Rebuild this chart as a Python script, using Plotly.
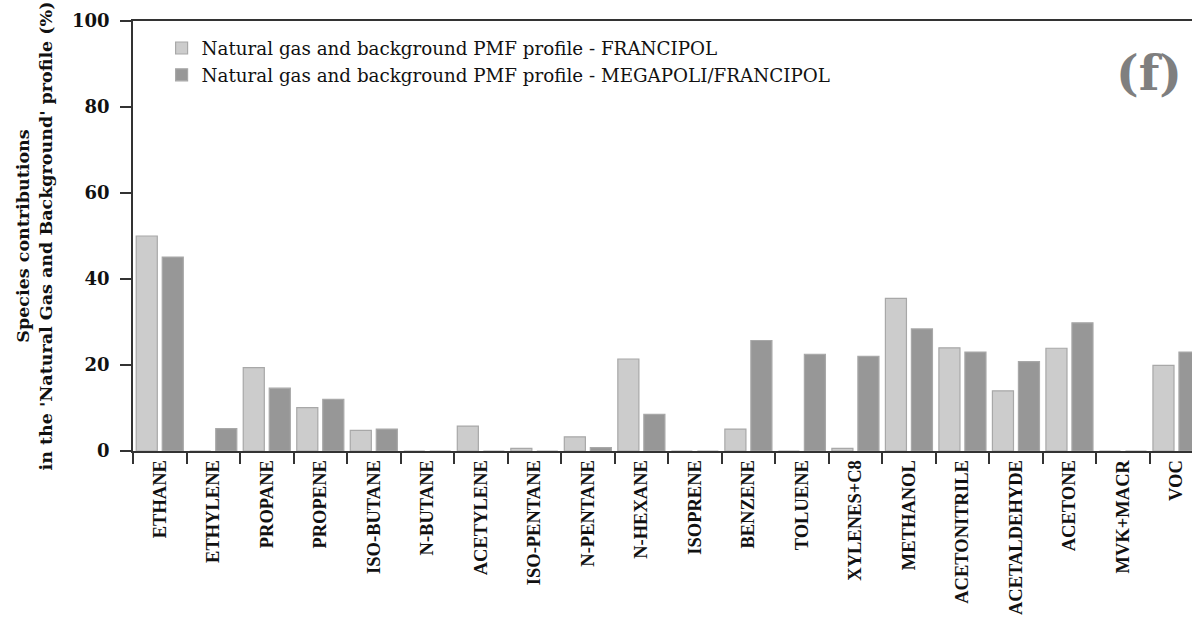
import plotly.graph_objects as go

species = ["ETHANE", "ETHYLENE", "PROPANE", "PROPENE", "ISO-BUTANE", "N-BUTANE",
           "ACETYLENE", "ISO-PENTANE", "N-PENTANE", "N-HEXANE", "ISOPRENE", "BENZENE",
           "TOLUENE", "XYLENES+C8", "METHANOL", "ACETONITRILE", "ACETALDEHYDE",
           "ACETONE", "MVK+MACR", "VOC"]

francipol = [50.0, 0.0, 19.4, 10.1, 4.8, 0.0, 5.8, 0.6, 3.3, 21.4, 0.0, 5.1,
             0.0, 0.6, 35.5, 24.0, 14.0, 23.9, 0.0, 19.9]

megapoli_francipol = [45.1, 5.2, 14.6, 12.0, 5.1, 0.0, 0.0, 0.0, 0.8, 8.5, 0.0, 25.7,
                      22.5, 22.0, 28.4, 23.0, 20.8, 29.8, 0.0, 23.0]

y_ticks = [0, 20, 40, 60, 80, 100]

serif = "Liberation Serif"
wide_serif = "DejaVu Serif"

fig = go.Figure()
fig.add_trace(go.Bar(
    x=species, y=francipol,
    name="Natural gas and background PMF profile - FRANCIPOL",
    marker=dict(color="#cccccc", line=dict(color="#a8a8a8", width=1.2)),
))
fig.add_trace(go.Bar(
    x=species, y=megapoli_francipol,
    name="Natural gas and background PMF profile - MEGAPOLI/FRANCIPOL",
    marker=dict(color="#979797", line=dict(color="#a8a8a8", width=1.2)),
))

fig.update_layout(
    width=1192, height=625,
    margin=dict(l=133, r=0, t=21, b=174),
    paper_bgcolor="white", plot_bgcolor="white",
    barmode="group", bargap=0.028, bargroupgap=0.19,
    showlegend=True,
    legend=dict(
        x=0.027, y=0.98, xanchor="left", yanchor="top",
        bgcolor="rgba(0,0,0,0)",
        font=dict(family=wide_serif, size=18.3, color="#111111"),
        tracegroupgap=0, itemwidth=30,
    ),
    font=dict(family=serif, color="black"),
)

fig.update_xaxes(
    type="category",
    range=[-0.5, 19.29],
    tickvals=species,
    ticktext=["<b>%s</b>" % s for s in species],
    showline=True, linecolor="#333333", linewidth=1.5,
    mirror=True,
    ticks="outside", ticklen=11, tickwidth=1.5, tickcolor="#333333",
    tickson="boundaries",
    tickangle=-90,
    tickfont=dict(family=serif, size=18.5, color="#111111", weight="bold"),
    showgrid=False,
)

fig.update_yaxes(
    range=[0, 100],
    tickvals=y_ticks,
    showline=True, linecolor="#333333", linewidth=1.5,
    ticks="outside", ticklen=11, tickwidth=1.5, tickcolor="#333333",
    ticklabelstandoff=7,
    tickfont=dict(family=wide_serif, size=18, color="#111111", weight="bold"),
    showgrid=False, zeroline=False,
    title=dict(
        text="Species contributions<br>in the 'Natural Gas and Background' profile (%)",
        font=dict(family=wide_serif, size=17.5, color="#111111", weight="bold"),
        standoff=15,
    ),
)

# panel letter in the upper right corner
fig.add_annotation(
    x=0.992, y=0.88, xref="paper", yref="paper",
    xanchor="right", yanchor="middle",
    text="(f)", showarrow=False,
    font=dict(family=wide_serif, size=48, color="#7f7f7f", weight="bold"),
)

fig.write_html("out.html")
